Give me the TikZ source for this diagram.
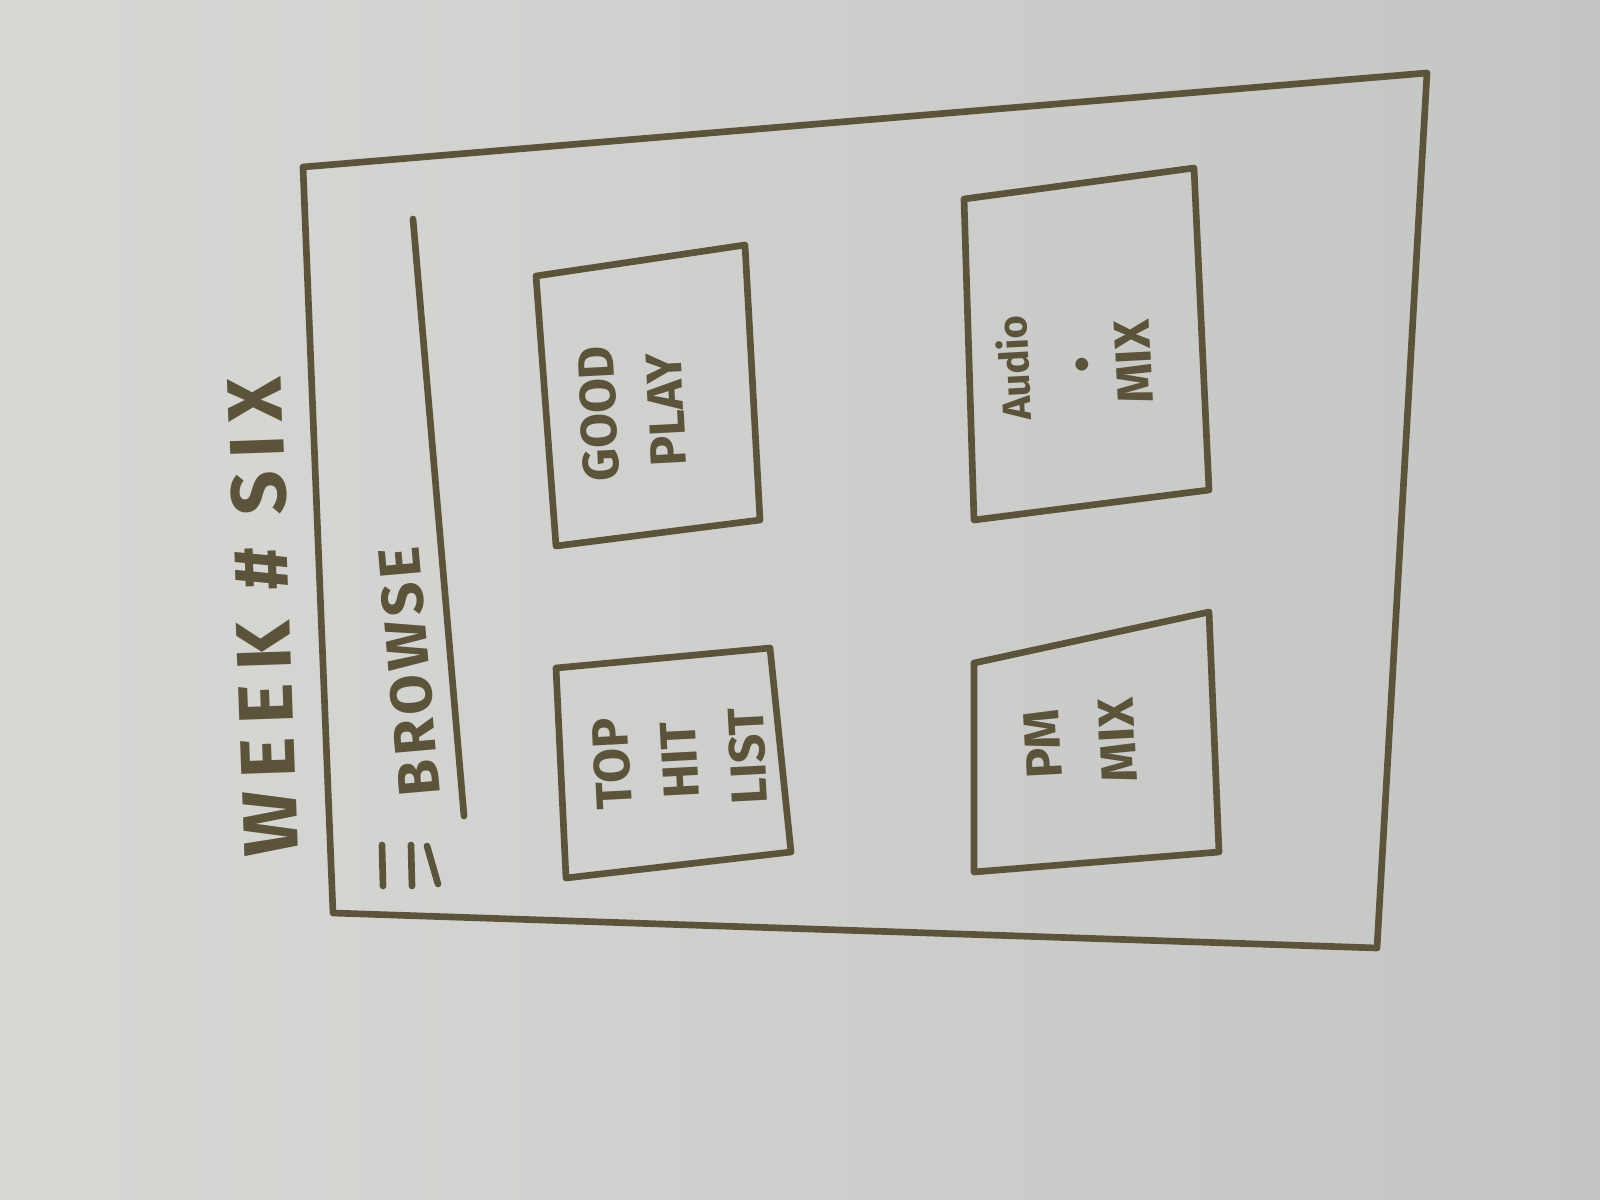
\documentclass[tikz,border=0pt]{standalone}
\usepackage{fontspec}
\setmainfont{Fira Sans}
\definecolor{ink}{RGB}{92,84,58}
\definecolor{paperA}{RGB}{216,216,213}
\definecolor{paperB}{RGB}{196,198,196}
\tikzset{
  sketch/.style={draw=ink,line width=5pt,line cap=round,line join=round},
  scrawl/.style={text=ink,font=\bfseries\fontsize{38}{51}\selectfont,align=center,inner sep=0.75pt,rotate=93},
}
\begin{document}
\begin{tikzpicture}[x=0.75pt,y=0.75pt,yscale=-1,xscale=1]
    %set diagram to the photo size
    \useasboundingbox (0,0) rectangle (1600,1200);
    \shade[left color=paperA,right color=paperB] (0,0) rectangle (1600,1200);

    %Shape: Page frame
    \draw[sketch] (303,167) -- (1427,73) -- (1377,948) -- (333,913) -- cycle ;
    %Straight Lines: underline
    \draw[sketch] (413,219) -- (464,816) ;
    %Straight Lines: menu strokes
    \draw[sketch] (382,845) -- (383,886) ;
    \draw[sketch] (411,845) -- (412,886) ;
    \draw[sketch] (427,846) -- (438,884) ;

    %Shape: Rectangle
    \draw[sketch] (536,276) -- (745,245) -- (760,520) -- (556,546) -- cycle ;
    %Shape: Rectangle
    \draw[sketch] (556,668) -- (770,648) -- (791,852) -- (566,878) -- cycle ;
    %Shape: Rectangle
    \draw[sketch] (964,199) -- (1194,168) -- (1209,490) -- (974,520) -- cycle ;
    %Shape: Rectangle
    \draw[sketch] (974,663) -- (1209,612) -- (1219,852) -- (974,872) -- cycle ;

    % Text Node
    \node (title) at (263,617) [scrawl,rotate=-1,font=\bfseries\fontsize{58}{58}\selectfont\addfontfeature{LetterSpace=17}] {WEEK \# SIX};
    % Text Node
    \node (browse) at (409,672) [scrawl,rotate=2,font=\bfseries\fontsize{44}{44}\selectfont\addfontfeature{LetterSpace=8}] {BROWSE};
    % Text Node
    \node (goodPlay) at (632,412) [scrawl] {GOOD\\PLAY};
    % Text Node
    \node (topHit) at (680,760) [scrawl] {TOP\\HIT\\LIST};
    % Text Node
    \node (audioMix) at (1074,365) [scrawl,font=\bfseries\fontsize{38}{46}\selectfont] {{\fontsize{30}{46}\selectfont Audio}\\$\bullet$\\MIX};
    % Text Node
    \node (pmMix) at (1080,742) [scrawl,font=\bfseries\fontsize{38}{56}\selectfont] {PM\\MIX};
\end{tikzpicture}
\end{document}
